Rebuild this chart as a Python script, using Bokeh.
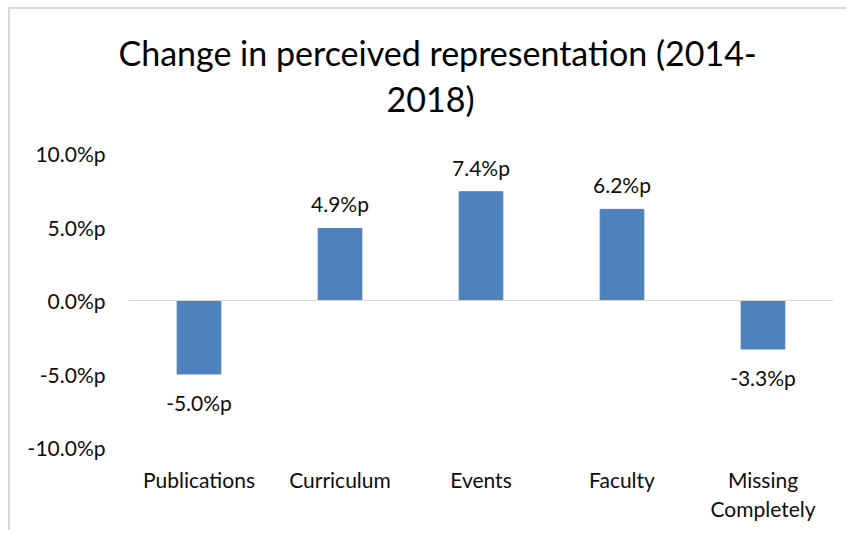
from bokeh.plotting import figure
from bokeh.models import (ColumnDataSource, Range1d, FixedTicker, Span, LabelSet, Title,
                          CategoricalAxis, CustomJSTickFormatter)
from bokeh.core.properties import value
from bokeh.embed import file_html
from bokeh.resources import INLINE

categories = ["Publications", "Curriculum", "Events", "Faculty", "Missing Completely"]
cat_line1 = ["Publications", "Curriculum", "Events", "Faculty", "Missing"]
cat_line2 = ["", "", "", "", "Completely"]
values = [-5.0, 4.9, 7.4, 6.2, -3.3]
value_labels = ["-5.0%p", "4.9%p", "7.4%p", "6.2%p", "-3.3%p"]
y_ticks = [-10, -5, 0, 5, 10]
y_tick_labels = ["-10.0%p", "-5.0%p", "0.0%p", "5.0%p", "10.0%p"]
title_line1 = "Change in perceived representation (2014-"
title_line2 = "2018)"

FONT = "Lato"
BLUE = "#4F81BD"
TXT = "#0d0d0d"
FS = "21px"

pos = [v >= 0 for v in values]
src_pos = ColumnDataSource(dict(
    cat=[c for c, p in zip(categories, pos) if p],
    val=[v for v, p in zip(values, pos) if p],
    lab=[l for l, p in zip(value_labels, pos) if p],
))
src_neg = ColumnDataSource(dict(
    cat=[c for c, p in zip(categories, pos) if not p],
    val=[v for v, p in zip(values, pos) if not p],
    lab=[l for l, p in zip(value_labels, pos) if not p],
))

p = figure(x_range=categories, y_range=Range1d(-10, 10),
           width=838, height=523, output_backend="svg", toolbar_location=None,
           min_border_left=118, min_border_right=15, min_border_top=144, min_border_bottom=85)
p.outline_line_color = None
p.grid.visible = False
p.background_fill_color = "white"
p.border_fill_color = "white"
p.styles = {"margin-left": "8px", "margin-top": "7px",
            "border-left": "2px solid #d9d9d9", "border-top": "2px solid #d9d9d9"}

p.add_layout(Span(location=0, dimension="width", line_color="#d9d9d9", line_width=1))

for s in (src_pos, src_neg):
    p.vbar(x="cat", top="val", bottom=0, width=0.31, source=s,
           fill_color=BLUE, line_color=BLUE)

p.add_layout(LabelSet(x="cat", y="val", text="lab", source=src_pos, y_offset=16,
                      text_align="center", text_baseline="alphabetic",
                      text_font=value(FONT), text_font_size=FS, text_color=TXT))
p.add_layout(LabelSet(x="cat", y="val", text="lab", source=src_neg, y_offset=-37,
                      text_align="center", text_baseline="alphabetic",
                      text_font=value(FONT), text_font_size=FS, text_color=TXT))

p.yaxis.ticker = FixedTicker(ticks=y_ticks)
p.yaxis.major_label_overrides = {t: l for t, l in zip(y_ticks, y_tick_labels)}

fmt_code = "const i = cats.indexOf(tick); return i >= 0 ? lines[i] : tick;"
p.xaxis.formatter = CustomJSTickFormatter(args=dict(cats=categories, lines=cat_line1), code=fmt_code)
x2 = CategoricalAxis(formatter=CustomJSTickFormatter(args=dict(cats=categories, lines=cat_line2),
                                                     code=fmt_code))
p.add_layout(x2, "below")

for ax in (p.xaxis[0], x2, p.yaxis[0]):
    ax.axis_line_color = None
    ax.major_tick_line_color = None
    ax.minor_tick_line_color = None
    ax.major_tick_out = 0
    ax.major_tick_in = 0
    ax.major_label_text_font = FONT
    ax.major_label_text_font_size = FS
    ax.major_label_text_color = TXT
p.yaxis.major_label_standoff = 23
p.xaxis[0].major_label_standoff = 19
x2.major_label_standoff = 1

p.add_layout(Title(text=title_line2, align="left", offset=258,
                   text_font=FONT, text_font_size="34px", text_font_style="normal",
                   text_color="#000000", standoff=70), "above")
p.add_layout(Title(text=title_line1, align="left", offset=-10,
                   text_font=FONT, text_font_size="34px", text_font_style="normal",
                   text_color="#000000", standoff=-64), "above")

open("out.html", "w").write(file_html(p, INLINE))
